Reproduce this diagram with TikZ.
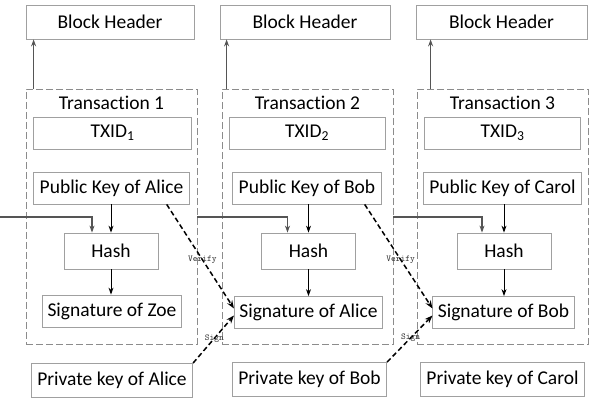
\documentclass[tikz,border=0pt]{standalone}
\usepackage{fontspec}
\setmainfont{Carlito}[Ligatures=NoCommon]
\usetikzlibrary{arrows.meta}

\definecolor{bordo}{RGB}{160,160,160}
\definecolor{tratteggio}{RGB}{140,140,140}
\definecolor{freccia}{RGB}{85,85,85}

\tikzset{
    box/.style={draw=bordo, line width=0.8pt, fill=white, minimum height=32pt, inner xsep=6pt, inner ysep=0pt},
    txbox/.style={draw=tratteggio, line width=0.8pt, dash pattern=on 7pt off 3pt, minimum width=171pt, minimum height=255pt, inner sep=0pt},
    grigia/.style={draw=freccia, line width=1.2pt, -{Stealth[length=7pt,width=5pt]}},
    nera/.style={draw=black, line width=1pt, -{Stealth[length=7pt,width=5pt]}},
    firma/.style={draw=black, line width=1.5pt, dash pattern=on 5pt off 3pt, -{Stealth[length=8pt,width=6pt]}},
    etichetta/.style={font=\ttfamily\fontsize{9}{9}\selectfont, text=black!80, inner sep=0pt}
}

\begin{document}
\begin{tikzpicture}[x=1pt, y=-1pt, font=\fontsize{19.5}{22}\selectfont]
    \useasboundingbox (0,0) rectangle (595,402);

    %intestazioni dei blocchi
    \node[box, minimum width=168pt, minimum height=34pt] (bh1) at (110,22) {Block Header};
    \node[box, minimum width=170pt, minimum height=34pt] (bh2) at (305,22) {Block Header};
    \node[box, minimum width=171pt, minimum height=34pt] (bh3) at (501.5,22) {Block Header};

    %riquadri tratteggiati delle transazioni
    \node[txbox] (tx1) at (111.5,216.5) {};
    \node[txbox] (tx2) at (307.5,216.5) {};
    \node[txbox] (tx3) at (502.5,216.5) {};

    %titoli delle transazioni
    \node (t1) at (111.5,103) {Transaction 1};
    \node (t2) at (307.5,103) {Transaction 2};
    \node (t3) at (502.5,103) {Transaction 3};

    %identificativi
    \node[box, minimum width=158pt] (id1) at (112.5,133) {TXID\textsubscript{1}};
    \node[box, minimum width=156pt] (id2) at (307,133) {TXID\textsubscript{2}};
    \node[box, minimum width=156pt] (id3) at (502.5,133) {TXID\textsubscript{3}};

    %chiavi pubbliche
    \node[box] (pk1) at (111.5,188) {Public Key of Alice};
    \node[box] (pk2) at (307,188) {Public Key of Bob};
    \node[box] (pk3) at (502.5,188) {Public Key of Carol};

    %hash
    \node[box, minimum width=94pt, minimum height=36pt] (h1) at (111,251) {Hash};
    \node[box, minimum width=94pt, minimum height=36pt] (h2) at (308.5,251) {Hash};
    \node[box, minimum width=94pt, minimum height=36pt] (h3) at (504,251) {Hash};

    %firme
    \node[box, inner xsep=5pt] (sig1) at (112,311) {Signature of Zoe};
    \node[box, inner xsep=5pt] (sig2) at (308.5,312.5) {Signature of Alice};
    \node[box, inner xsep=5pt] (sig3) at (503.5,312.5) {Signature of Bob};

    %chiavi private
    \node[box, minimum height=34pt] (sk1) at (112,380.5) {Private key of Alice};
    \node[box, minimum height=34pt] (sk2) at (309.5,379.5) {Private key of Bob};
    \node[box, minimum height=34pt] (sk3) at (502.5,379.5) {Private key of Carol};

    %ingresso da sinistra
    \coordinate (in1) at (0,217);

    %Archi
    \draw[grigia] ([xshift=8pt]tx1.north west) -- ([xshift=8pt]tx1.north west |- bh1.south);
    \draw[grigia] ([xshift=5pt]tx2.north west) -- ([xshift=5pt]tx2.north west |- bh2.south);
    \draw[grigia] ([xshift=14pt]tx3.north west) -- ([xshift=14pt]tx3.north west |- bh3.south);

    \draw[grigia] (in1) -| ([xshift=-19pt]h1.north);
    \draw[grigia] (tx1.east |- in1) -| ([xshift=-21pt]h2.north);
    \draw[grigia] (tx2.east |- in1) -| ([xshift=-22pt]h3.north);

    \draw[nera] (h1.north |- pk1.south) -- (h1.north);
    \draw[nera] (h2.north |- pk2.south) -- (h2.north);
    \draw[nera] (h3.north |- pk3.south) -- (h3.north);
    \draw[nera] (h1.south) -- (h1.south |- sig1.north);
    \draw[nera] (h2.south) -- (h2.south |- sig2.north);
    \draw[nera] (h3.south) -- (h3.south |- sig3.north);

    \draw[firma] ([xshift=-23pt]pk1.south east) -- node[etichetta, pos=0.53] {Verify} ([yshift=4pt]sig2.west);
    \draw[firma] ([xshift=-17pt]pk2.south east) -- node[etichetta, pos=0.53] {Verify} ([yshift=4pt]sig3.west);
    \draw[firma] (sk1.north east) -- node[etichetta, pos=0.52] {Sign} ([yshift=-3pt]sig2.west);
    \draw[firma] (sk2.north east) -- node[etichetta, pos=0.52] {Sign} ([yshift=-3pt]sig3.west);

\end{tikzpicture}
\end{document}
